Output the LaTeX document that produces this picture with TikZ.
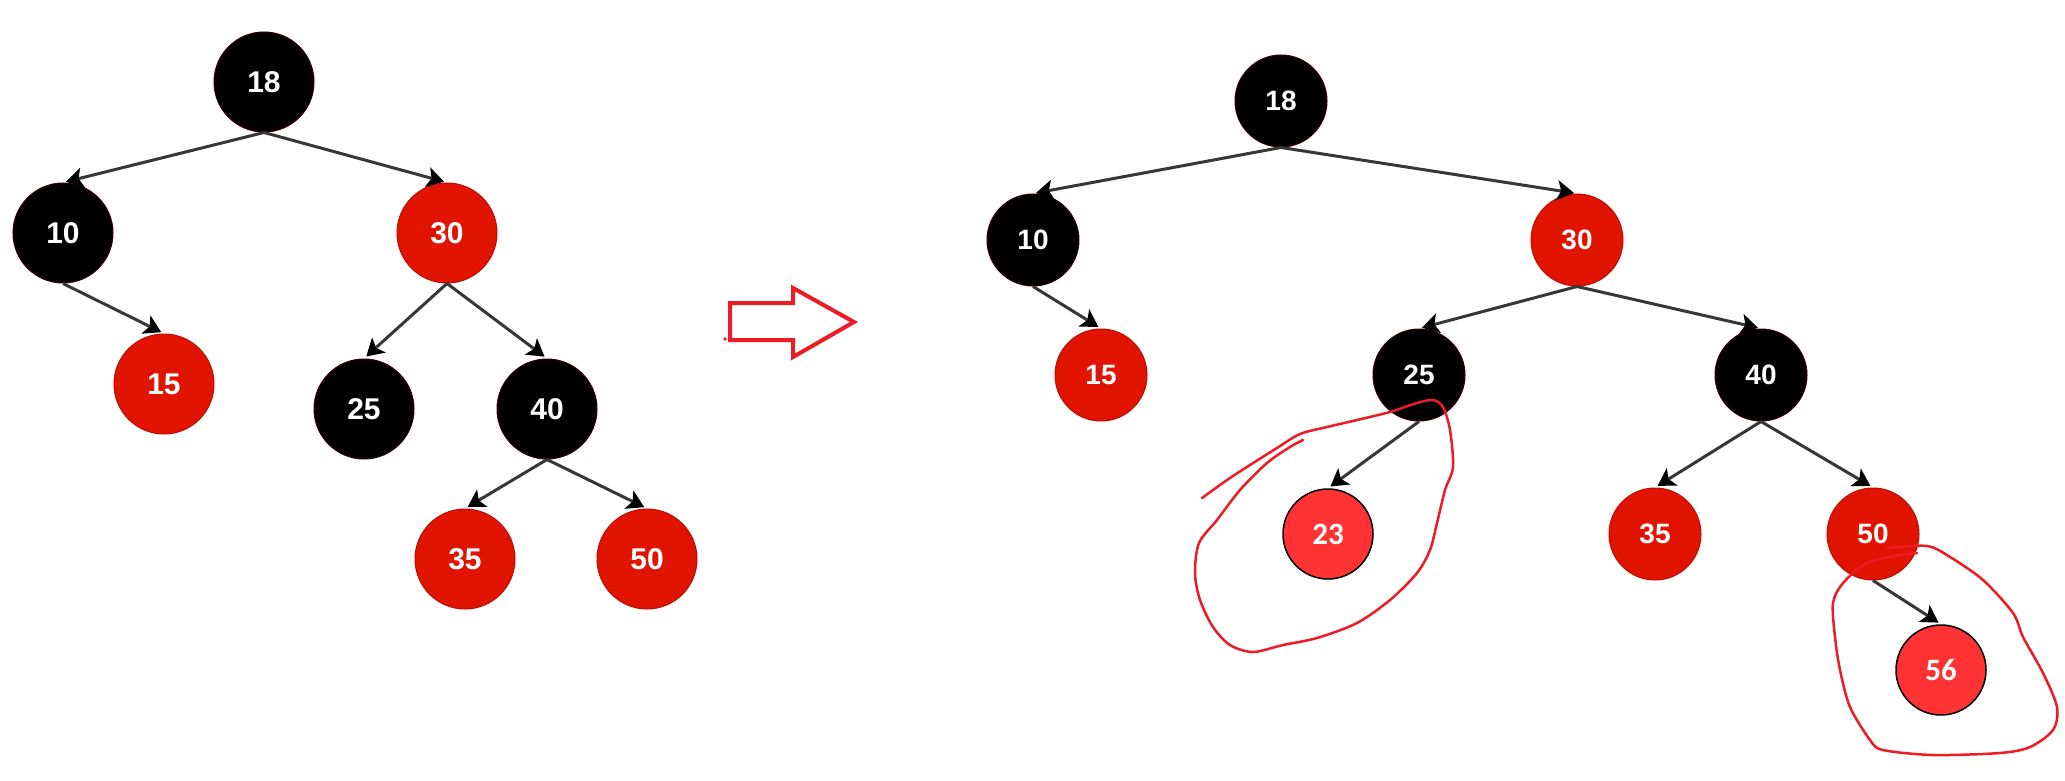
\documentclass[tikz,border=0pt]{standalone}
\usepackage{fontspec}
\setmainfont{Liberation Sans}
\newfontfamily\calib{Carlito}
\usetikzlibrary{arrows.meta}
\definecolor{rbred}{RGB}{224,20,0}
\definecolor{rbedge}{RGB}{190,10,0}
\definecolor{blkedge}{RGB}{50,0,0}
\definecolor{newred}{RGB}{255,51,51}
\definecolor{penred}{RGB}{237,28,36}
\definecolor{edgegray}{RGB}{55,55,55}
\begin{document}
\begin{tikzpicture}[x=1pt,y=-1pt,
  lnode/.style={circle, minimum size=100pt, inner sep=0pt, text=white, line width=1pt, font=\fontsize{30}{30}\selectfont\bfseries},
  rnode/.style={circle, minimum size=92pt, inner sep=0pt, text=white, line width=1pt, font=\fontsize{28}{28}\selectfont\bfseries},
  blk/.style={fill=black, draw=blkedge},
  rd/.style={fill=rbred, draw=rbedge},
  newnode/.style={circle, minimum size=90pt, inner sep=0pt, fill=newred, draw=black, line width=1.5pt, text=white, font=\fontsize{31}{31}\selectfont\calib\bfseries},
  edge/.style={draw=edgegray, line width=3pt, shorten >=3pt, -{Stealth[length=17pt,width=20pt,inset=4pt,color=black]}},
  pen/.style={draw=penred, line width=2.5pt, line cap=round, line join=round}
]
\useasboundingbox (0,0) rectangle (2065,781);
% left tree
\node[lnode,blk] (a18) at (264,82) {18};
\node[lnode,blk] (a10) at (63,233) {10};
\node[lnode,rd]  (a30) at (447,233) {30};
\node[lnode,rd]  (a15) at (164,384) {15};
\node[lnode,blk] (a25) at (364,409) {25};
\node[lnode,blk] (a40) at (547,409) {40};
\node[lnode,rd]  (a35) at (465,559) {35};
\node[lnode,rd]  (a50) at (647,559) {50};
\draw[edge] (a18.south) -- (a10.north);
\draw[edge] (a18.south) -- (a30.north);
\draw[edge] (a10.south) -- (a15.north);
\draw[edge] (a30.south) -- (a25.north);
\draw[edge] (a30.south) -- (a40.north);
\draw[edge] (a40.south) -- (a35.north);
\draw[edge] (a40.south) -- (a50.north);
% block arrow
\draw[draw=penred, line width=4pt, line join=miter] (730,303) -- (793,303) -- (793,288) -- (854,322) -- (793,357) -- (793,340) -- (730,340) -- cycle;
\fill[penred] (725,339) circle (1.8pt);
% right tree
\node[rnode,blk] (b18) at (1281,101) {18};
\node[rnode,blk] (b10) at (1033,240) {10};
\node[rnode,rd]  (b30) at (1577,240) {30};
\node[rnode,rd]  (b15) at (1101,375) {15};
\node[rnode,blk] (b25) at (1419,375) {25};
\node[rnode,blk] (b40) at (1761,375) {40};
\node[newnode]   (b23) at (1328,534) {23};
\node[rnode,rd]  (b35) at (1655,534) {35};
\node[rnode,rd]  (b50) at (1873,534) {50};
\node[newnode]   (b56) at (1941,670) {56};
\draw[edge] (b18.south) -- (b10.north);
\draw[edge] (b18.south) -- (b30.north);
\draw[edge] (b10.south) -- (b15.north);
\draw[edge] (b30.south) -- (b25.north);
\draw[edge] (b30.south) -- (b40.north);
\draw[edge] (b25.south) -- (b23.north);
\draw[edge] (b40.south) -- (b35.north);
\draw[edge] (b40.south) -- (b50.north);
\draw[edge] (b50.south) -- (b56.north);
% hand-drawn loops
\draw[pen] plot[smooth, tension=0.5] coordinates {(1202,498) (1227,480) (1250,465) (1277,448) (1300,434) (1327,427) (1357,420) (1390,412) (1417,403) (1433,400) (1443,407) (1450,430) (1453,467) (1445,490) (1437,523) (1430,550) (1417,573) (1390,600) (1357,623) (1317,638) (1283,645) (1253,652) (1230,645) (1213,627) (1200,600) (1195,573) (1199,543) (1217,520) (1240,490) (1267,463) (1290,447) (1303,440)};
\draw[pen] plot[smooth, tension=0.5] coordinates {(1887,548) (1927,546) (1950,557) (1983,580) (2013,613) (2023,637) (2043,673) (2057,707) (2053,730) (2030,747) (2000,753) (1933,755) (1883,750) (1870,740) (1850,707) (1840,670) (1835,637) (1833,603) (1843,583) (1867,563) (1900,555) (1917,553)};
\end{tikzpicture}
\end{document}
